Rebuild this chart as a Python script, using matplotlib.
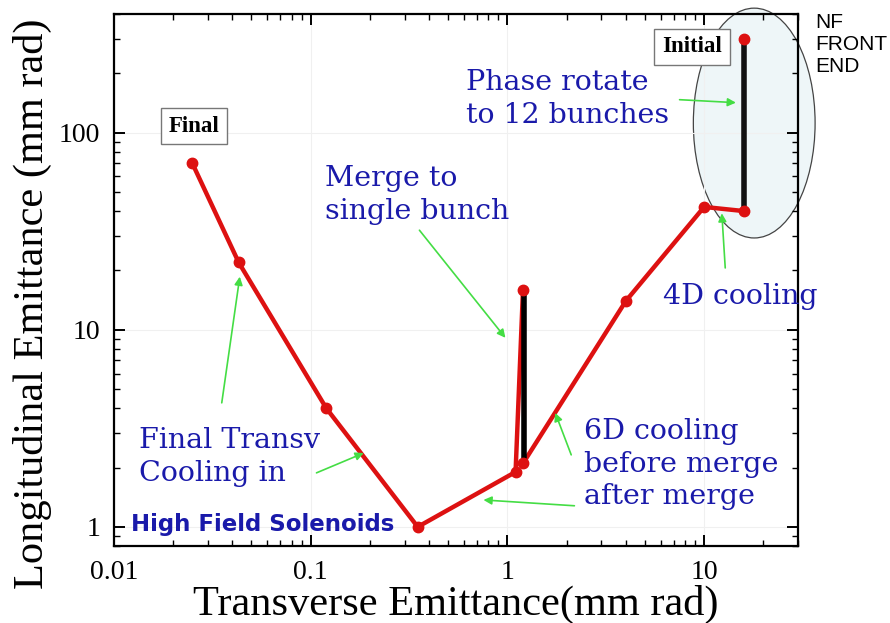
import matplotlib
matplotlib.use("Agg")
import matplotlib.pyplot as plt
from matplotlib.patches import Ellipse
from matplotlib.ticker import LogLocator, NullFormatter, FixedLocator, FixedFormatter

# cooling path, final -> merge
cool_x = [0.025, 0.043, 0.12, 0.35, 1.1, 1.2]
cool_y = [70, 22, 4, 1, 1.9, 16]
# after merge -> initial
front_x = [1.2, 4, 10, 16]
front_y = [2.1, 14, 42, 40]
# vertical (black) steps: merge and phase rotation
merge_x = [1.22, 1.22]
merge_y = [16, 2.3]
phase_x = [16, 16]
phase_y = [42, 300]
# dots
dot_x = [0.025, 0.043, 0.12, 0.35, 1.1, 1.2, 1.2, 4, 10, 16, 16]
dot_y = [70, 22, 4, 1, 1.9, 16, 2.1, 14, 42, 40, 300]

xticks = [0.01, 0.1, 1, 10]
xtick_labels = ["0.01", "0.1", "1", "10"]
yticks = [1, 10, 100]
ytick_labels = ["1", "10", "100"]

# annotation arrows: (tail, head) in data coords
arrows = [
    ((7.5, 147), (14.5, 142)),
    ((12.8, 20.6), (12.3, 39)),
    ((0.357, 32), (0.977, 9.1)),
    ((0.0353, 4.26), (0.0436, 18.6)),
    ((0.107, 1.88), (0.186, 2.37)),
    ((2.19, 1.28), (0.755, 1.37)),
    ((2.11, 2.32), (1.75, 3.79)),
]

W, H = 890, 623
fig = plt.figure(figsize=(W / 100, H / 100), dpi=100)
ax = fig.add_axes([114 / W, 1 - 546 / H, 684 / W, 532 / H])
ax.set_xscale("log")
ax.set_yscale("log")
ax.set_xlim(0.01, 30)
ax.set_ylim(0.8, 400)

ax.grid(True, which="major", color="#f0f0f0", lw=0.8, zorder=0)

ell = Ellipse((0.936, 0.795), 0.178, 0.432, transform=ax.transAxes,
              facecolor="#eef6f8", edgecolor="#444444", lw=0.9,
              clip_on=False, zorder=1)
ax.add_patch(ell)

red = "#dd1111"
ax.plot(cool_x, cool_y, color=red, lw=3.2, zorder=3)
ax.plot(front_x, front_y, color=red, lw=3.2, zorder=3)
ax.plot(merge_x, merge_y, color="black", lw=4, zorder=4)
ax.plot(phase_x, phase_y, color="#111111", lw=4, zorder=4)
ax.plot(dot_x, dot_y, "o", color=red, ms=7.5, zorder=5, mec=red)

for tail, head in arrows:
    ax.annotate("", xy=head, xytext=tail,
                arrowprops=dict(arrowstyle="-|>", color="#44dd44", lw=1.2,
                                mutation_scale=12, shrinkA=0, shrinkB=0),
                zorder=6)

for s in ax.spines.values():
    s.set_linewidth(1.6)
ax.tick_params(which="both", direction="in", top=True, right=True)
ax.tick_params(which="major", length=8, width=1.4, labelsize=20, pad=10)
ax.tick_params(which="minor", length=4.5, width=1.0)
ax.xaxis.set_major_locator(FixedLocator(xticks))
ax.xaxis.set_major_formatter(FixedFormatter(xtick_labels))
ax.yaxis.set_major_locator(FixedLocator(yticks))
ax.yaxis.set_major_formatter(FixedFormatter(ytick_labels))
ax.xaxis.set_minor_locator(LogLocator(base=10, subs=range(2, 10)))
ax.yaxis.set_minor_locator(LogLocator(base=10, subs=range(2, 10)))
ax.xaxis.set_minor_formatter(NullFormatter())
ax.yaxis.set_minor_formatter(NullFormatter())
for lab in ax.get_xticklabels() + ax.get_yticklabels():
    lab.set_fontfamily("Liberation Serif")

ax.set_xlabel("Transverse Emittance(mm rad)", fontfamily="Liberation Serif",
              fontsize=30.5, labelpad=0)
ax.set_ylabel("Longitudinal Emittance (mm rad)", fontfamily="Liberation Serif",
              fontsize=30.5)
ax.yaxis.set_label_coords(-0.09, 0.455)


def fx(px):
    return px / W


def fy(py):
    return 1 - py / H


box = dict(boxstyle="square,pad=0.34", facecolor="white", edgecolor="#777777", lw=1)
fig.text(fx(194), fy(126), "Final", ha="center", va="center", fontsize=16.5,
         fontweight="bold", fontfamily="Liberation Serif",
         bbox=box, zorder=7)
fig.text(fx(692), fy(47), "Initial", ha="center", va="center", fontsize=16.5,
         fontweight="bold", fontfamily="Liberation Serif",
         bbox=box, zorder=7)

blue = "#1a1aaa"
bkw = dict(color=blue, fontfamily="DejaVu Serif", fontsize=20.5, ha="left",
           va="center", linespacing=1.25)
fig.text(fx(466), fy(99), "Phase rotate\nto 12 bunches", **bkw)
fig.text(fx(325), fy(195), "Merge to\nsingle bunch", **bkw)
fig.text(fx(663), fy(296), "4D cooling", **bkw)
fig.text(fx(584), fy(464), "6D cooling\nbefore merge\nafter merge", **bkw)
fig.text(fx(139), fy(457), "Final Transv\nCooling in", **bkw)
fig.text(fx(131), fy(524), "High Field Solenoids", color=blue,
         fontfamily="DejaVu Sans", fontweight="bold", fontsize=16.5,
         ha="left", va="center")

fig.text(fx(815), fy(44), "NF\nFRONT\nEND", fontfamily="Liberation Sans",
         fontsize=15, ha="left", va="center", linespacing=1.2)

fig.savefig("out.png", dpi=100)
